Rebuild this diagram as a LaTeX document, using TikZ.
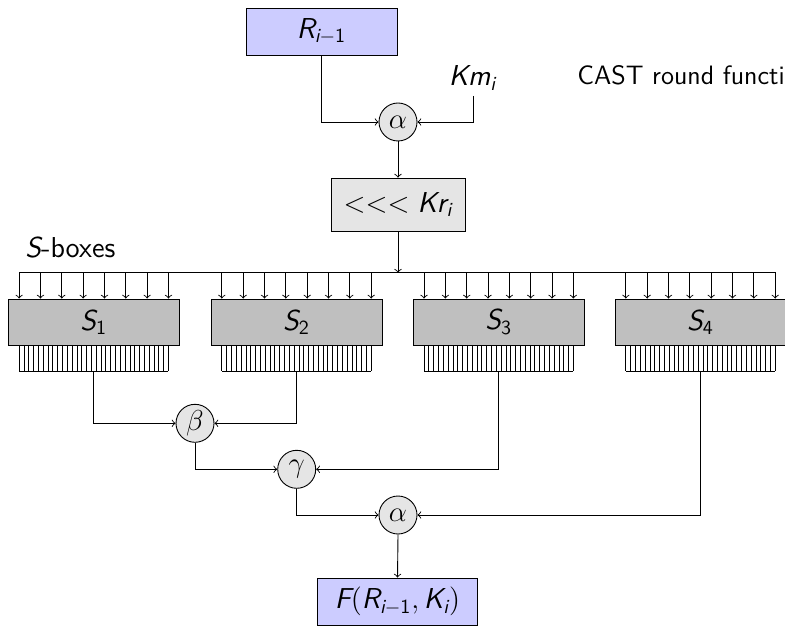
\documentclass[tikz,border=0pt]{standalone}
\usepackage{amsmath}
\usepackage{fontspec}
\usetikzlibrary{calc}
\newcommand\vi[1]{\text{\sffamily\itshape #1}}
\newcommand\vu[1]{\text{\sffamily #1}}
\begin{document}
\begin{tikzpicture}[x=0.5pt,y=-0.5pt,
  line width=0.45pt,
  >=to,
  bluebox/.style={draw, fill=blue!20, inner sep=0pt, minimum width=75.5pt, minimum height=23.5pt, font=\fontsize{14.4}{17}\selectfont},
  graybox/.style={draw, fill=gray!20, inner sep=0pt, minimum width=67pt, minimum height=26.5pt, font=\fontsize{14.4}{17}\selectfont},
  sbox/.style={draw, fill=gray!50, inner sep=0pt, minimum width=85.5pt, minimum height=23pt, font=\fontsize{14.4}{17}\selectfont},
  op/.style={draw, circle, fill=gray!20, inner sep=0pt, minimum size=19pt, font=\fontsize{14.4}{17}\selectfont},
  lbl/.style={inner sep=0pt, font=\sffamily\fontsize{14.4}{17}\selectfont}
]
\useasboundingbox (0,0) rectangle (785,625);
\clip (0,0) rectangle (785,625);

% top part
\node[bluebox] (R) at (321.5,31.5) {$\vi{R}_{\vi{i}-\vu{1}}$};
\node[lbl, anchor=base] (kmlabel) at (472.5,86) {$\vi{Km}_{\vi{i}}$};
\node[lbl, anchor=base west, font=\sffamily\fontsize{13.3}{16}\selectfont] (title) at (577,84.5) {CAST round function};
\coordinate (km) at (473,96);
\node[op] (a1) at (398,122) {$\alpha$};
\node[graybox] (Kr) at (398,204.6) {$<<<\vi{Kr}_{\vi{i}}$};

\draw[->] (R.south) |- (a1.west);
\draw[->] (km) |- (a1.east);
\draw[->] (a1.south) -- (Kr.north);

% bus
\coordinate (busL) at (19.3,272.7);
\coordinate (busR) at (776,272.7);
\draw (busL) -- (busR);
\draw[->] (Kr.south) -- (Kr.south |- busL);

\node[lbl, anchor=base west] (sboxes) at (25,257) {$\vi{S}$-boxes};

% S-boxes
\foreach \i/\cx in {1/93.8, 2/296.5, 3/498.7, 4/700.5} {
  \node[sbox] (S\i) at (\cx,322) {$\vi{S}_{\vu{\i}}$};
  \foreach \k in {0,...,7} {
    \pgfmathsetmacro\xx{\cx-74.67+\k*21.333}
    \draw[->] (\xx,272.7) -- (\xx,0 |- S\i.north);
  }
  \foreach \j in {0,...,31} {
    \pgfmathsetmacro\xx{\cx-74.67+\j*4.8172}
    \draw[line width=0.4pt] (\xx,0 |- S\i.south) -- (\xx,371);
  }
  \draw ({\cx-74.67},371) -- ({\cx+74.67},371);
  \coordinate (o\i) at (\cx,371);
}

% combining
\node[op] (b) at (195,423.3) {$\beta$};
\node[op] (g) at (296.7,469.3) {$\gamma$};
\node[op] (a2) at (398,515) {$\alpha$};
\node[bluebox, minimum width=80pt] (F) at (397.5,601.5) {$\vi{F}(\vi{R}_{\vi{i}-\vu{1}},\vi{K}_{\vi{i}})$};

\draw[->] (o1) |- (b.west);
\draw[->] (o2) |- (b.east);
\draw[->] (b.south) |- (g.west);
\draw[->] (o3) |- (g.east);
\draw[->] (g.south) |- (a2.west);
\draw[->] (o4) |- (a2.east);
\draw[->] (a2.south) -- (F.north);
\end{tikzpicture}
\end{document}
